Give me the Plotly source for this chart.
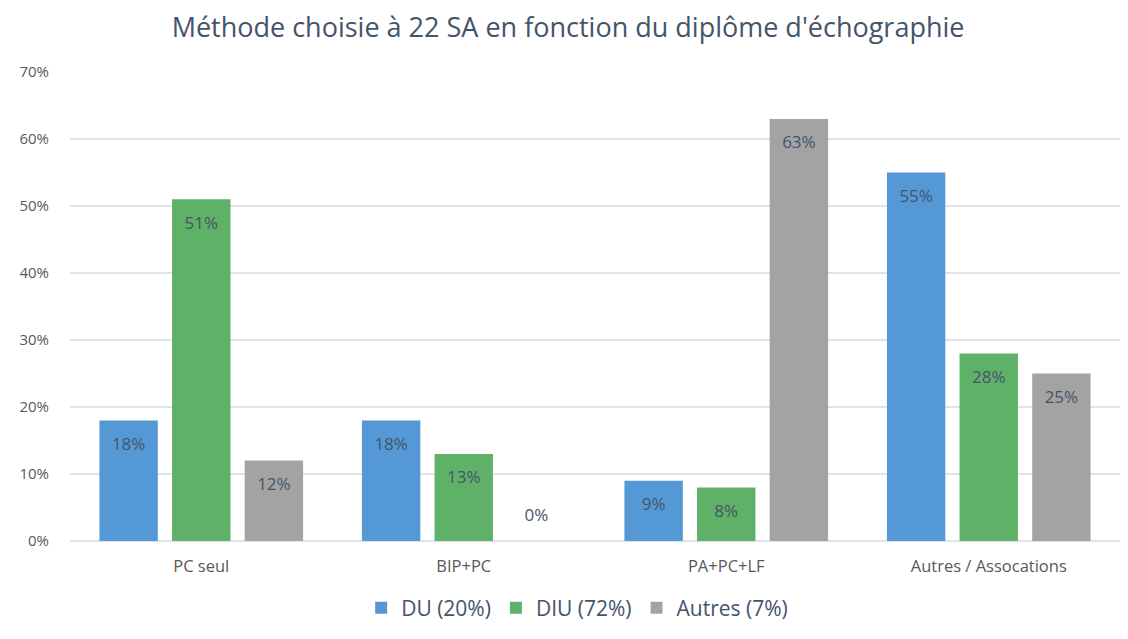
import plotly.graph_objects as go

categories = ["PC seul", "BIP+PC", "PA+PC+LF", "Autres / Assocations"]
series_names = ["DU (20%)", "DIU (72%)", "Autres (7%)"]
du_values = [18, 18, 9, 55]
diu_values = [51, 13, 8, 28]
autres_values = [12, 0, 63, 25]
tick_vals = [0, 10, 20, 30, 40, 50, 60, 70]
tick_text = ["0%", "10%", "20%", "30%", "40%", "50%", "60%", "70%"]

colors = ["#5499d6", "#60b168", "#a3a3a3"]
FONT = "'Open Sans', sans-serif"
TXT = "#44546a"


def label(v):
    big = "<span style='font-size:17px'>%d%%</span>" % v
    return (" <br>" + big) if v > 0 else (big + "<br> ")


fig = go.Figure()
for name, vals, col in zip(series_names, [du_values, diu_values, autres_values], colors):
    fig.add_trace(go.Bar(
        name=name, x=categories, y=vals,
        marker=dict(color=col, line=dict(width=0)),
        text=[label(v) for v in vals],
        textposition=["inside" if v > 0 else "outside" for v in vals],
        insidetextanchor="end",
        textangle=0,
        textfont=dict(family=FONT, size=11, color=TXT),
        cliponaxis=False,
    ))

fig.update_layout(
    width=1128, height=639,
    margin=dict(l=62, r=16, t=64, b=106),
    paper_bgcolor="white", plot_bgcolor="white",
    barmode="group", bargap=0.17, bargroupgap=0.196,
    title=dict(text="Méthode choisie à 22 SA en fonction du diplôme d'échographie",
               x=0.4965, xanchor="center", y=0.9687, yanchor="middle",
               font=dict(family=FONT, size=27, color=TXT)),
    font=dict(family=FONT, color="#595959"),
    legend=dict(orientation="h", x=0.483, xanchor="center", y=-0.143, yanchor="middle",
                font=dict(family=FONT, size=21, color=TXT), traceorder="normal",
                itemwidth=30),
    uniformtext=dict(mode=False),
)
fig.update_yaxes(range=[0, 70], tickvals=tick_vals, ticktext=tick_text,
                 showgrid=True, gridcolor="#dfe3ea", gridwidth=1.5,
                 zeroline=True, zerolinecolor="#dfe3ea", zerolinewidth=1.5,
                 tickfont=dict(family=FONT, size=15, color="#595959"),
                 ticklabelstandoff=20, showline=False, automargin=False)
fig.update_xaxes(tickfont=dict(family=FONT, size=16.5, color="#595959"),
                 showline=False, ticks="", ticklabelstandoff=13, automargin=False)

fig.write_html("out.html")
